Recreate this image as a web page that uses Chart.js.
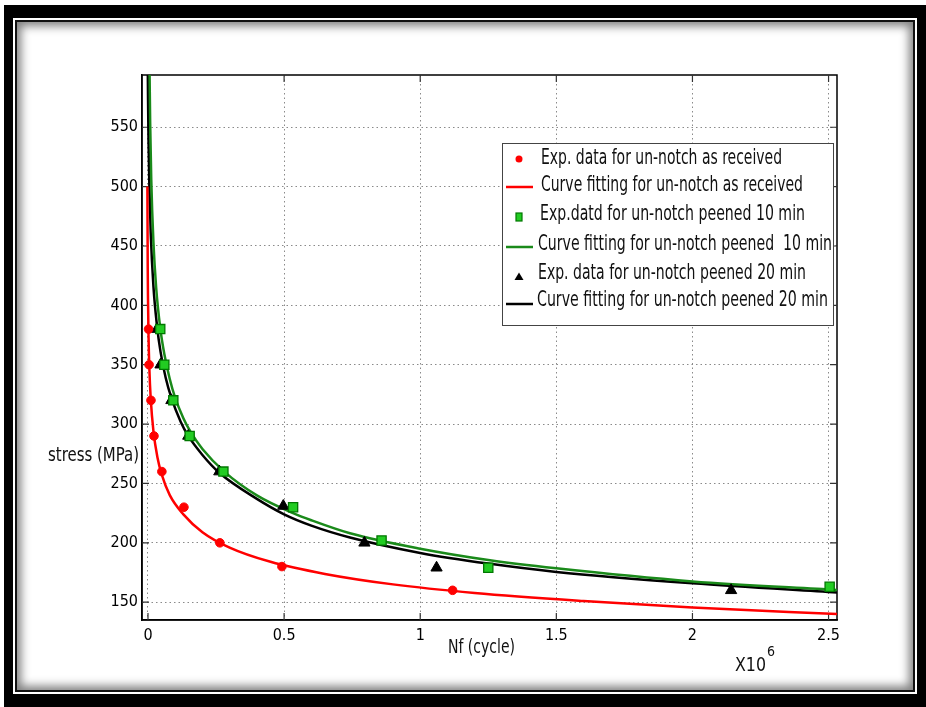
<!DOCTYPE html>
<html>
<head>
<meta charset="utf-8">
<script src="https://cdn.jsdelivr.net/npm/chart.js"></script>
<style>
  html, body { margin: 0; padding: 0; background: #fff; }
  #wrap { position: relative; width: 926px; height: 707px; overflow: hidden; }
  .outer { position: absolute; left: 4px; top: 5px; right: 0; bottom: 0; background: #000; }
  .gap { position: absolute; left: 9px; top: 13px; right: 9px; bottom: 13px; background: #fff; }
  .inner { position: absolute; left: 2px; top: 2px; right: 2px; bottom: 2px; border: 2px solid #111;
           background: #fff; box-shadow: inset 0 0 10px 4px rgba(0,0,0,0.5); }
  #mycanvas { position: absolute; left: 0; top: 0; }
</style>
</head>
<body>
<div id="wrap">
  <div class="outer"><div class="gap"><div class="inner"></div></div></div>
  <canvas id="mycanvas" width="926" height="707"></canvas>
</div>
<script>
// axis ticks (Nf in units of 10^6 cycles)
var xTicks = [0, 0.5, 1, 1.5, 2, 2.5];
var yTicks = [150, 200, 250, 300, 350, 400, 450, 500, 550];

// experimental data
var redExpN = [0.002, 0.004, 0.011, 0.022, 0.051, 0.132, 0.264, 0.492, 1.119];
var redExpS = [380, 350, 320, 290, 260, 230, 200, 180, 160];
var greenExpN = [0.045, 0.060, 0.093, 0.153, 0.277, 0.533, 0.858, 1.250, 2.504];
var greenExpS = [380, 350, 320, 290, 260, 230, 202, 179, 163];
var blackExpN = [0.033, 0.046, 0.086, 0.148, 0.262, 0.497, 0.795, 1.060, 2.142];
var blackExpS = [380, 350, 320, 290, 260, 231, 200, 179, 160];

// fitted curves
var redFitN = [-0.0022, -0.001, 0.0, 0.002, 0.005, 0.01, 0.02, 0.035, 0.05, 0.08, 0.13, 0.2, 0.3, 0.45, 0.65, 0.9, 1.2, 1.6, 2.0, 2.531];
var redFitS = [500, 433, 406, 374, 347, 321.6, 294, 271.6, 257.8, 240.2, 224, 209, 196, 184, 173.8, 165, 157.8, 151, 145.5, 140];
var greenFitN = [0.0059, 0.008, 0.012, 0.02, 0.03, 0.045, 0.06, 0.08, 0.1, 0.13, 0.155, 0.2, 0.28, 0.4, 0.533, 0.6, 0.742, 1.0, 1.25, 1.5, 2.0, 2.531];
var greenFitS = [594, 554, 506, 453, 415, 381, 359, 338, 322, 305, 294, 279, 260, 240, 225, 219, 208, 195, 185.5, 178.5, 167.5, 160.3];
var blackFitN = [-0.0006, 0.0, 0.002, 0.005, 0.01, 0.02, 0.033, 0.046, 0.065, 0.086, 0.12, 0.148, 0.2, 0.262, 0.4, 0.5, 0.6, 0.742, 1.0, 1.25, 1.5, 2.0, 2.531];
var blackFitS = [594, 577, 538, 501, 461, 416, 383, 361, 339, 322, 302, 290, 274, 259, 237, 224, 214.5, 204.5, 191.5, 182.5, 175.5, 165.9, 158.1];

var legendLabels = [
	'Exp. data for un-notch as received',
	'Curve fitting for un-notch as received',
	'Exp.datd for un-notch peened 10 min',
	'Curve fitting for un-notch peened  10 min',
	'Exp. data for un-notch peened 20 min',
	'Curve fitting for un-notch peened 20 min'
];

var FONT = '"Liberation Sans Narrow", "DejaVu Sans Condensed", "Liberation Sans", sans-serif';

function pts(n, s) {
	var out = [];
	for (var i in n) {
		out.push({x: n[i], y: s[i]});
	}
	return out;
}

var extras = {
	id: 'extras',
	beforeDatasetsDraw: function(chart) {
		var ctx = chart.ctx, a = chart.chartArea, xs = chart.scales.x, ys = chart.scales.y;
		ctx.save();
		ctx.strokeStyle = '#000';
		ctx.lineWidth = 1.5;
		ctx.strokeRect(a.left, a.top, a.right - a.left, a.bottom - a.top);
		ctx.lineWidth = 1.2;
		ctx.strokeStyle = '#333';
		ctx.beginPath();
		xTicks.forEach(function(v) {
			var px = xs.getPixelForValue(v);
			ctx.moveTo(px, a.bottom); ctx.lineTo(px, a.bottom - 7);
			ctx.moveTo(px, a.top); ctx.lineTo(px, a.top + 7);
		});
		yTicks.forEach(function(v) {
			var py = ys.getPixelForValue(v);
			ctx.moveTo(a.left, py); ctx.lineTo(a.left + 7, py);
			ctx.moveTo(a.right, py); ctx.lineTo(a.right - 7, py);
		});
		ctx.stroke();
		ctx.restore();
	},
	afterDraw: function(chart) {
		var ctx = chart.ctx;
		ctx.save();

		// legend box
		var lx = 502, ly = 143, lw = 331, lh = 182;
		ctx.fillStyle = '#fff';
		ctx.fillRect(lx, ly, lw, lh);
		ctx.strokeStyle = '#444';
		ctx.lineWidth = 1;
		ctx.strokeRect(lx + 0.5, ly + 0.5, lw, lh);

		var rows = [
			{kind: 'circle', color: '#ff0000', my: 159, ty: 158, tx: 541, tw: 241},
			{kind: 'line', color: '#ff0000', my: 187, ty: 185, tx: 541, tw: 262},
			{kind: 'rect', color: '#22cc22', border: '#007700', my: 217, ty: 214, tx: 540, tw: 265},
			{kind: 'line', color: '#1a8a1a', my: 247, ty: 244, tx: 538, tw: 294},
			{kind: 'tri', color: '#000', my: 277, ty: 273, tx: 538, tw: 268},
			{kind: 'line', color: '#000', my: 304, ty: 300, tx: 537, tw: 291}
		];
		rows.forEach(function(r, i) {
			ctx.fillStyle = r.color;
			ctx.strokeStyle = r.color;
			if (r.kind === 'circle') {
				ctx.beginPath(); ctx.arc(519, r.my, 3.5, 0, Math.PI * 2); ctx.fill();
			} else if (r.kind === 'rect') {
				ctx.fillRect(516, r.my - 4, 6, 8);
				ctx.strokeStyle = r.border; ctx.lineWidth = 1.2;
				ctx.strokeRect(516, r.my - 4, 6, 8);
			} else if (r.kind === 'tri') {
				ctx.beginPath(); ctx.moveTo(519, r.my - 4.5); ctx.lineTo(523.5, r.my + 3); ctx.lineTo(514.5, r.my + 3);
				ctx.closePath(); ctx.fill();
			} else {
				ctx.lineWidth = 2.5;
				ctx.beginPath(); ctx.moveTo(506, r.my); ctx.lineTo(533, r.my); ctx.stroke();
			}
			ctx.fillStyle = '#111';
			ctx.font = '22px ' + FONT;
			ctx.textBaseline = 'middle';
			ctx.textAlign = 'left';
			ctx.fillText(legendLabels[i], r.tx, r.ty, r.tw);
		});

		// axis titles
		ctx.fillStyle = '#111';
		ctx.textBaseline = 'middle';
		ctx.font = '19px ' + FONT;
		ctx.fillText('stress (MPa)', 48, 456, 91);
		ctx.font = '20px ' + FONT;
		ctx.fillText('Nf (cycle)', 448, 648, 67);
		ctx.fillText('X10', 735, 666, 31);
		ctx.font = '14px ' + FONT;
		ctx.fillText('6', 767, 652);
		ctx.restore();
	}
};

var chartdata = {
	datasets: [
		{
			label: legendLabels[0],
			data: pts(redExpN, redExpS),
			pointStyle: 'circle', pointRadius: 4.3,
			backgroundColor: '#ff0000', borderColor: '#ff0000', showLine: false
		},
		{
			label: legendLabels[2],
			data: pts(greenExpN, greenExpS),
			pointStyle: 'rect', pointRadius: 6.5, borderWidth: 1.3,
			backgroundColor: '#22cc22', borderColor: '#007700', showLine: false
		},
		{
			label: legendLabels[4],
			data: pts(blackExpN, blackExpS),
			pointStyle: 'triangle', pointRadius: 6.5,
			backgroundColor: '#000', borderColor: '#000', showLine: false
		},
		{
			label: legendLabels[1],
			data: pts(redFitN, redFitS),
			showLine: true, pointRadius: 0, borderWidth: 2.5, borderColor: '#ff0000',
			cubicInterpolationMode: 'monotone', fill: false
		},
		{
			label: legendLabels[3],
			data: pts(greenFitN, greenFitS),
			showLine: true, pointRadius: 0, borderWidth: 2.5, borderColor: '#1a8a1a',
			cubicInterpolationMode: 'monotone', fill: false
		},
		{
			label: legendLabels[5],
			data: pts(blackFitN, blackFitS),
			showLine: true, pointRadius: 0, borderWidth: 2.5, borderColor: '#000',
			cubicInterpolationMode: 'monotone', fill: false
		}
	]
};

var ctx = document.getElementById('mycanvas');

var plot = new Chart(ctx, {
	type: 'scatter',
	data: chartdata,
	plugins: [extras],
	options: {
		responsive: false,
		animation: false,
		layout: { padding: { left: 0, right: 89, top: 75, bottom: 0 } },
		plugins: { legend: { display: false }, tooltip: { enabled: false } },
		scales: {
			x: {
				type: 'linear', min: -0.022, max: 2.531,
				afterBuildTicks: function(s) { s.ticks = xTicks.map(function(v) { return {value: v}; }); },
				afterFit: function(s) { s.height = 87; },
				grid: { color: '#8a8a8a', lineWidth: 1, drawTicks: false },
				border: { display: true, color: '#000', width: 1.5, dash: [1.5, 3] },
				ticks: { padding: 6, color: '#000', font: { family: FONT, size: 16 },
					maxRotation: 0, callback: function(v) { return v; } }
			},
			y: {
				type: 'linear', min: 135, max: 594,
				afterBuildTicks: function(s) { s.ticks = yTicks.map(function(v) { return {value: v}; }); },
				afterFit: function(s) { s.width = 142; },
				grid: { color: '#8a8a8a', lineWidth: 1, drawTicks: false },
				border: { display: true, color: '#000', width: 1.5, dash: [1.5, 3] },
				ticks: { padding: 4, color: '#000', font: { family: FONT, size: 16 },
					callback: function(v) { return v; } }
			}
		}
	}
});
</script>
</body>
</html>
